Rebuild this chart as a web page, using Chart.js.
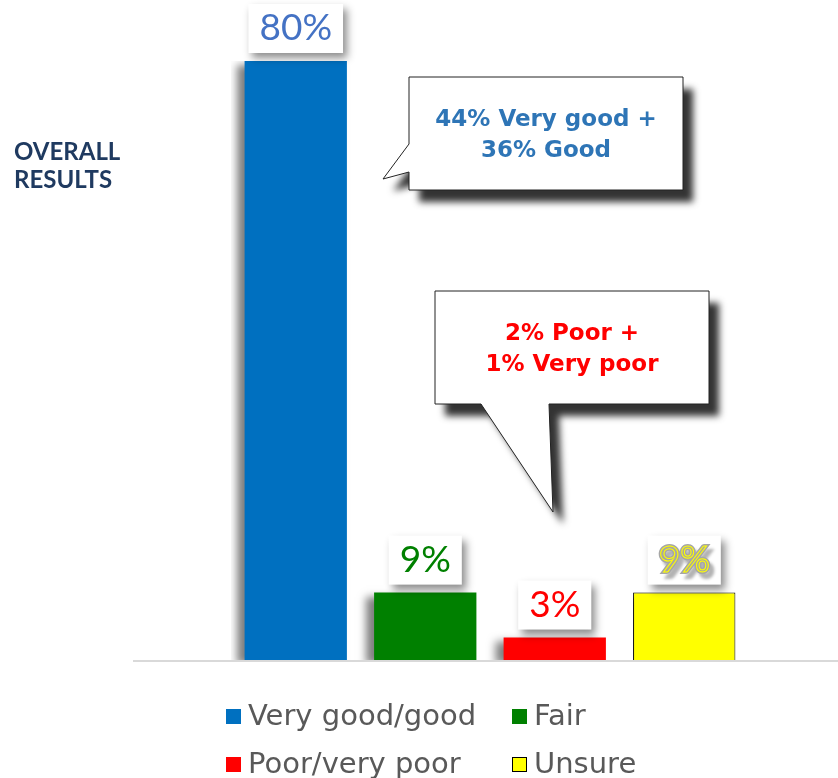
<!DOCTYPE html>
<html lang="en">
<head>
<meta charset="UTF-8">
<title>Overall results</title>
<script src="https://cdn.jsdelivr.net/npm/chart.js@4.4.1/dist/chart.umd.min.js"></script>
<style>
  body { margin: 0; background: #fff; }
  canvas { display: block; }
</style>
</head>
<body>
<canvas id="grafico" width="838" height="778"></canvas>
<script>
// datos del grafico
const categories = ['Very good/good', 'Fair', 'Poor/very poor', 'Unsure'];
const values = [80, 9, 3, 9];
const barColors = ['#0070C0', '#008000', '#FF0000', '#FFFF00'];
const labelColors = ['#4472C4', '#008000', '#FF0000', '#A6A6A6'];
const titleLines = ['OVERALL', 'RESULTS'];
const calloutGood = ['44% Very good +', '36% Good'];
const calloutPoor = ['2% Poor +', '1% Very poor'];

// linea base, etiquetas, globos, titulo y leyenda
const extras = {
  id: 'extras',
  beforeDatasetsDraw(chart) {
    const ctx = chart.ctx;
    const base = chart.scales.y.getPixelForValue(0);
    ctx.save();
    ctx.strokeStyle = '#D9D9D9';
    ctx.lineWidth = 2;
    ctx.beginPath();
    ctx.moveTo(133, base + 1);
    ctx.lineTo(838, base + 1);
    ctx.stroke();
    ctx.restore();
    // sombra de las barras
    ctx.save();
    ctx.shadowColor = 'rgba(0,0,0,0.5)';
    ctx.shadowBlur = 8;
    ctx.shadowOffsetX = -8;
    ctx.shadowOffsetY = 4;
  },
  afterDatasetsDraw(chart) {
    const ctx = chart.ctx;
    ctx.restore();
    const meta = chart.getDatasetMeta(0);

    // etiquetas de valor
    meta.data.forEach((bar, i) => {
      const txt = values[i] + '%';
      ctx.save();
      ctx.font = '37px Lato';
      const w = ctx.measureText(txt).width + 22;
      const h = 49;
      const bottom = bar.y - 8;
      ctx.shadowColor = 'rgba(0,0,0,0.45)';
      ctx.shadowBlur = 8;
      ctx.shadowOffsetX = 4;
      ctx.shadowOffsetY = 5;
      ctx.fillStyle = '#fff';
      ctx.fillRect(bar.x - w / 2, bottom - h, w, h);
      ctx.shadowColor = 'transparent';
      ctx.textAlign = 'center';
      ctx.textBaseline = 'alphabetic';
      const ty = bottom - 13;
      if (i === 3) {
        ctx.shadowColor = 'rgba(0,0,0,0.3)';
        ctx.shadowBlur = 3;
        ctx.strokeStyle = '#A6A6A6';
        ctx.lineWidth = 4;
        ctx.strokeText(txt, bar.x, ty);
        ctx.shadowColor = 'transparent';
        ctx.fillStyle = '#A6A6A6';
        ctx.fillText(txt, bar.x, ty);
        ctx.strokeStyle = '#FFFF00';
        ctx.lineWidth = 1;
        ctx.strokeText(txt, bar.x, ty);
      } else {
        ctx.fillStyle = labelColors[i];
        ctx.fillText(txt, bar.x, ty);
      }
      ctx.restore();
    });

    // globos de texto
    function globo(points, lines, color, cx, y0) {
      ctx.save();
      ctx.beginPath();
      points.forEach((p, k) => k ? ctx.lineTo(p[0], p[1]) : ctx.moveTo(p[0], p[1]));
      ctx.closePath();
      ctx.shadowColor = 'rgba(0,0,0,0.8)';
      ctx.shadowBlur = 7;
      ctx.shadowOffsetX = 10;
      ctx.shadowOffsetY = 12;
      ctx.fillStyle = '#fff';
      ctx.fill();
      ctx.shadowColor = 'transparent';
      ctx.strokeStyle = '#222';
      ctx.lineWidth = 1;
      ctx.stroke();
      ctx.fillStyle = color;
      ctx.font = 'bold 23px "DejaVu Sans"';
      ctx.textAlign = 'center';
      ctx.textBaseline = 'middle';
      lines.forEach((t, k) => ctx.fillText(t, cx, y0 + k * 31));
      ctx.restore();
    }
    globo([[409, 77], [683, 77], [683, 190], [409, 190], [409, 172], [383, 179], [409, 144]],
      calloutGood, '#2E75B6', 546, 120);
    globo([[435, 291], [709, 291], [709, 404], [549, 404], [553, 512], [481, 404], [435, 404]],
      calloutPoor, '#FF0000', 572, 334);

    // titulo
    ctx.save();
    ctx.fillStyle = '#1F3A60';
    ctx.font = 'bold 24px Lato';
    ctx.textBaseline = 'alphabetic';
    titleLines.forEach((t, k) => ctx.fillText(t, 14, 160 + k * 28));
    ctx.restore();

    // leyenda 2x2
    ctx.save();
    ctx.font = '29px "DejaVu Sans"';
    ctx.textBaseline = 'alphabetic';
    const cols = [226, 512];
    const rows = [725, 773];
    categories.forEach((c, i) => {
      const x = cols[i % 2];
      const y = rows[Math.floor(i / 2)];
      ctx.fillStyle = barColors[i];
      ctx.fillRect(x, y - 16, 15, 15);
      if (i === 3) {
        ctx.strokeStyle = '#000';
        ctx.lineWidth = 1;
        ctx.strokeRect(x + 0.5, y - 15.5, 14, 14);
      }
      ctx.fillStyle = '#595959';
      ctx.fillText(c, x + 22, y);
    });
    ctx.restore();
  }
};

new Chart(document.getElementById('grafico'), {
  type: 'bar',
  data: {
    labels: categories,
    datasets: [{
      data: values,
      backgroundColor: barColors,
      borderColor: ['#0070C0', '#008000', '#FF0000', '#000000'],
      borderWidth: [0, 0, 0, 1],
      barPercentage: 0.79,
      categoryPercentage: 1
    }]
  },
  options: {
    responsive: false,
    animation: false,
    devicePixelRatio: 1,
    layout: { padding: { left: 231, right: 89, top: 61, bottom: 118 } },
    plugins: { legend: { display: false }, tooltip: { enabled: false } },
    scales: {
      x: { display: false },
      y: { display: false, min: 0, max: 80 }
    }
  },
  plugins: [extras]
});
</script>
</body>
</html>
